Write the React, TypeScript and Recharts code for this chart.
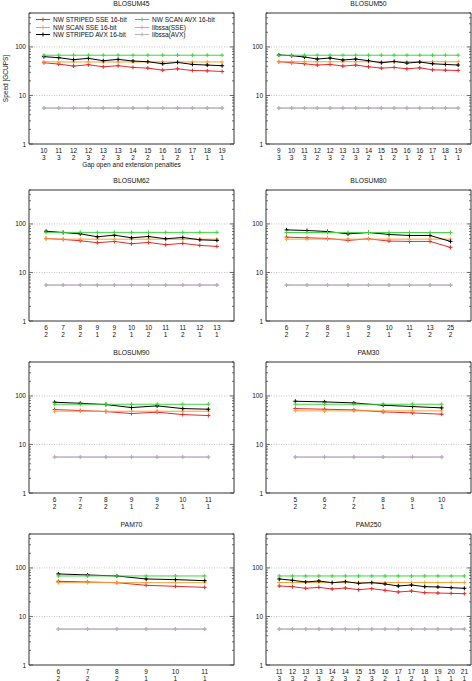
import React from 'react';
import { LineChart, Line, XAxis, YAxis, ReferenceLine, ReferenceArea, Legend } from 'recharts';

const SERIES_NAMES = ['NW STRIPED SSE 16-bit', 'NW SCAN SSE 16-bit', 'NW STRIPED AVX 16-bit', 'NW SCAN AVX 16-bit', 'libssa(SSE)', 'libssa(AVX)'];
const SERIES_KEYS = ['stripedSse', 'scanSse', 'stripedAvx', 'scanAvx', 'libssaSse', 'libssaAvx'];
const SERIES_COLORS = ['#e42a2a', '#f2a43a', '#000000', '#3fd83f', '#d49ad4', '#b4b4b4'];

const Y_TICKS = [1, 2, 3, 4, 5, 6, 7, 8, 9, 10, 20, 30, 40, 50, 60, 70, 80, 90, 100, 200, 300, 400, 500];
const Y_MAJOR = [1, 10, 100];

// BLOSUM45
const B45_OPEN = [10, 11, 12, 12, 13, 13, 14, 15, 16, 16, 17, 18, 19];
const B45_EXT = [3, 3, 2, 3, 2, 3, 2, 2, 1, 2, 1, 1, 1];
const B45_STRIPED_SSE = [47.2, 44.3, 40.3, 43, 39, 41, 37.8, 36.6, 33.2, 35.4, 32.7, 32.2, 31.2];
const B45_SCAN_SSE = [49.5, 49, 49, 49, 49, 49, 49, 49, 49, 49, 49, 49, 49];
const B45_STRIPED_AVX = [63, 60, 54.6, 58.2, 52, 55.4, 51.2, 49.6, 45, 48, 43.6, 42.3, 41];
const B45_SCAN_AVX = [67.5, 67.5, 67.5, 67.5, 67.5, 67.5, 67.5, 67.5, 67.5, 67.5, 67.5, 67.5, 67.5];
const B45_LIBSSA_SSE = [5.5, 5.5, 5.5, 5.5, 5.5, 5.5, 5.5, 5.5, 5.5, 5.5, 5.5, 5.5, 5.5];
const B45_LIBSSA_AVX = [5.5, 5.5, 5.5, 5.5, 5.5, 5.5, 5.5, 5.5, 5.5, 5.5, 5.5, 5.5, 5.5];

// BLOSUM50
const B50_OPEN = [9, 10, 11, 12, 12, 13, 13, 14, 15, 15, 16, 16, 17, 18, 19];
const B50_EXT = [3, 3, 3, 2, 3, 2, 3, 2, 1, 2, 1, 2, 1, 1, 1];
const B50_STRIPED_SSE = [49.6, 47.2, 45, 42.3, 43.6, 40.3, 42.3, 39, 36.6, 37.8, 35.4, 37.1, 33.7, 33.2, 32.7];
const B50_SCAN_SSE = [49.5, 49.5, 49.5, 49.5, 49.5, 49.5, 49.5, 49.5, 49.5, 49.5, 49.5, 49.5, 49.5, 49.5, 49.5];
const B50_STRIPED_AVX = [68.2, 66, 62, 56.3, 59.1, 53.7, 56.3, 52, 47.2, 50.3, 46.5, 48.8, 45, 43.6, 42.3];
const B50_SCAN_AVX = [67.5, 67.5, 67.5, 67.5, 67.5, 67.5, 67.5, 67.5, 67.5, 67.5, 67.5, 67.5, 67.5, 67.5, 67.5];
const B50_LIBSSA_SSE = [5.5, 5.5, 5.5, 5.5, 5.5, 5.5, 5.5, 5.5, 5.5, 5.5, 5.5, 5.5, 5.5, 5.5, 5.5];
const B50_LIBSSA_AVX = [5.5, 5.5, 5.5, 5.5, 5.5, 5.5, 5.5, 5.5, 5.5, 5.5, 5.5, 5.5, 5.5, 5.5, 5.5];

// BLOSUM62
const B62_OPEN = [6, 7, 8, 9, 9, 10, 10, 11, 11, 12, 13];
const B62_EXT = [2, 2, 2, 1, 2, 1, 2, 1, 2, 1, 1];
const B62_STRIPED_SSE = [50.2, 47.9, 45, 41, 43.6, 39.1, 41.6, 37.3, 39.7, 36.1, 34.4];
const B62_SCAN_SSE = [49.5, 48.5, 48.5, 48.5, 48.5, 48.5, 48.5, 48.5, 48.5, 48.5, 48.5];
const B62_STRIPED_AVX = [70.8, 66.5, 62.5, 54.3, 58.7, 51.8, 55.1, 49.4, 52.6, 47.1, 45.7];
const B62_SCAN_AVX = [67, 67, 67, 67, 67, 67, 67, 67, 67, 67, 67];
const B62_LIBSSA_SSE = [5.5, 5.5, 5.5, 5.5, 5.5, 5.5, 5.5, 5.5, 5.5, 5.5, 5.5];
const B62_LIBSSA_AVX = [5.5, 5.5, 5.5, 5.5, 5.5, 5.5, 5.5, 5.5, 5.5, 5.5, 5.5];

// BLOSUM80
const B80_OPEN = [6, 7, 8, 9, 9, 10, 11, 13, 25];
const B80_EXT = [2, 2, 2, 1, 2, 1, 1, 2, 2];
const B80_STRIPED_SSE = [53.4, 51.8, 50.2, 45.7, 49.4, 44.3, 43.6, 43.6, 32.9];
const B80_SCAN_SSE = [48.6, 48.6, 48.6, 48.6, 48.6, 48.6, 48.6, 48.6, 48.6];
const B80_STRIPED_AVX = [75.4, 73.1, 69.8, 62.5, 66.5, 60.6, 57.8, 57.8, 43.6];
const B80_SCAN_AVX = [66.5, 66.5, 66.5, 66.5, 66.5, 66.5, 66.5, 66.5, 66.5];
const B80_LIBSSA_SSE = [5.5, 5.5, 5.5, 5.5, 5.5, 5.5, 5.5, 5.5, 5.5];
const B80_LIBSSA_AVX = [5.5, 5.5, 5.5, 5.5, 5.5, 5.5, 5.5, 5.5, 5.5];

// BLOSUM90
const B90_OPEN = [6, 7, 8, 9, 9, 10, 11];
const B90_EXT = [2, 2, 2, 1, 2, 1, 1];
const B90_STRIPED_SSE = [52.4, 50, 47.6, 43.4, 46.2, 41.3, 39.4];
const B90_SCAN_SSE = [48.4, 48.4, 48.4, 48.4, 48.4, 48.4, 48.4];
const B90_STRIPED_AVX = [74.1, 70.7, 66.4, 57.6, 62.3, 54.9, 53.2];
const B90_SCAN_AVX = [67.4, 67.4, 67.4, 67.4, 67.4, 67.4, 67.4];
const B90_LIBSSA_SSE = [5.5, 5.5, 5.5, 5.5, 5.5, 5.5, 5.5];
const B90_LIBSSA_AVX = [5.5, 5.5, 5.5, 5.5, 5.5, 5.5, 5.5];

// PAM30
const P30_OPEN = [5, 6, 7, 8, 9, 10];
const P30_EXT = [2, 2, 2, 1, 1, 1];
const P30_STRIPED_SSE = [54.9, 53.2, 51.5, 46.9, 44.7, 42];
const P30_SCAN_SSE = [49.2, 49.2, 49.2, 49.2, 49.2, 49.2];
const P30_STRIPED_AVX = [77.7, 75.3, 71.8, 64.3, 60.4, 56.7];
const P30_SCAN_AVX = [67.4, 67.4, 67.4, 67.4, 67.4, 67.4];
const P30_LIBSSA_SSE = [5.5, 5.5, 5.5, 5.5, 5.5, 5.5];
const P30_LIBSSA_AVX = [5.5, 5.5, 5.5, 5.5, 5.5, 5.5];

// PAM70
const P70_OPEN = [6, 7, 8, 9, 10, 11];
const P70_EXT = [2, 2, 2, 1, 1, 1];
const P70_STRIPED_SSE = [53, 51.3, 49.7, 43.8, 41.8, 39.8];
const P70_SCAN_SSE = [49.7, 49.7, 49.7, 49.7, 49.7, 49.7];
const P70_STRIPED_AVX = [75.2, 71.6, 68.3, 59.2, 57.4, 54.7];
const P70_SCAN_AVX = [68.3, 68.3, 68.3, 68.3, 68.3, 68.3];
const P70_LIBSSA_SSE = [5.5, 5.5, 5.5, 5.5, 5.5, 5.5];
const P70_LIBSSA_AVX = [5.5, 5.5, 5.5, 5.5, 5.5, 5.5];

// PAM250
const P250_OPEN = [11, 12, 13, 13, 14, 14, 15, 15, 16, 17, 17, 18, 19, 20, 21];
const P250_EXT = [3, 3, 2, 3, 2, 3, 2, 3, 2, 1, 2, 1, 1, 1, 1];
const P250_STRIPED_SSE = [42.4, 41.1, 38, 39.8, 36.8, 38.6, 35.6, 37.4, 34.5, 31.9, 33.4, 30.9, 30.4, 29.9, 29.5];
const P250_SCAN_SSE = [50, 50, 50, 50, 50, 50, 50, 50, 50, 50, 50, 50, 50, 50, 50];
const P250_STRIPED_AVX = [59.2, 55.6, 51.3, 53.8, 49.7, 52.2, 48.2, 49.7, 46.7, 42.4, 44.5, 41.1, 40.5, 39.2, 38];
const P250_SCAN_AVX = [68.3, 68.3, 68.3, 68.3, 68.3, 68.3, 68.3, 68.3, 68.3, 68.3, 68.3, 68.3, 68.3, 68.3, 68.3];
const P250_LIBSSA_SSE = [5.5, 5.5, 5.5, 5.5, 5.5, 5.5, 5.5, 5.5, 5.5, 5.5, 5.5, 5.5, 5.5, 5.5, 5.5];
const P250_LIBSSA_AVX = [5.5, 5.5, 5.5, 5.5, 5.5, 5.5, 5.5, 5.5, 5.5, 5.5, 5.5, 5.5, 5.5, 5.5, 5.5];

const PANELS = [
  { title: 'BLOSUM45', open: B45_OPEN, ext: B45_EXT, xMax: 12.8, series: [B45_STRIPED_SSE, B45_SCAN_SSE, B45_STRIPED_AVX, B45_SCAN_AVX, B45_LIBSSA_SSE, B45_LIBSSA_AVX] },
  { title: 'BLOSUM50', open: B50_OPEN, ext: B50_EXT, xMax: 15, series: [B50_STRIPED_SSE, B50_SCAN_SSE, B50_STRIPED_AVX, B50_SCAN_AVX, B50_LIBSSA_SSE, B50_LIBSSA_AVX] },
  { title: 'BLOSUM62', open: B62_OPEN, ext: B62_EXT, xMax: 11, series: [B62_STRIPED_SSE, B62_SCAN_SSE, B62_STRIPED_AVX, B62_SCAN_AVX, B62_LIBSSA_SSE, B62_LIBSSA_AVX] },
  { title: 'BLOSUM80', open: B80_OPEN, ext: B80_EXT, xMax: 9, series: [B80_STRIPED_SSE, B80_SCAN_SSE, B80_STRIPED_AVX, B80_SCAN_AVX, B80_LIBSSA_SSE, B80_LIBSSA_AVX] },
  { title: 'BLOSUM90', open: B90_OPEN, ext: B90_EXT, xMax: 7, series: [B90_STRIPED_SSE, B90_SCAN_SSE, B90_STRIPED_AVX, B90_SCAN_AVX, B90_LIBSSA_SSE, B90_LIBSSA_AVX] },
  { title: 'PAM30', open: P30_OPEN, ext: P30_EXT, xMax: 6, series: [P30_STRIPED_SSE, P30_SCAN_SSE, P30_STRIPED_AVX, P30_SCAN_AVX, P30_LIBSSA_SSE, P30_LIBSSA_AVX] },
  { title: 'PAM70', open: P70_OPEN, ext: P70_EXT, xMax: 6, series: [P70_STRIPED_SSE, P70_SCAN_SSE, P70_STRIPED_AVX, P70_SCAN_AVX, P70_LIBSSA_SSE, P70_LIBSSA_AVX] },
  { title: 'PAM250', open: P250_OPEN, ext: P250_EXT, xMax: 14.5, series: [P250_STRIPED_SSE, P250_SCAN_SSE, P250_STRIPED_AVX, P250_SCAN_AVX, P250_LIBSSA_SSE, P250_LIBSSA_AVX] },
];

const FONT = '"Liberation Sans", Arial, sans-serif';
const FS = 6.5;
const W = 236;
const H = 170;
const PLOT_L = 30;
const PLOT_R = 235;
const PLOT_T = 13;
const PLOT_B = 144;
const AXIS = '#333';
const COL_LEFT = [-1, 236];
const BOX_TOPS = [13, 190, 362, 534];

function PlusDot(props: any) {
  const { cx, cy, stroke } = props;
  if (cx == null || cy == null) return null;
  return <path d={`M${cx - 2},${cy}h4M${cx},${cy - 2}v4`} stroke={stroke} strokeWidth={1} fill="none" />;
}

function YTick(props: any) {
  const { y, payload } = props;
  const v = payload.value;
  const major = Y_MAJOR.includes(v);
  const len = major ? 4 : 2;
  return (
    <g>
      <line x1={PLOT_L} x2={PLOT_L + len} y1={y} y2={y} stroke={AXIS} strokeWidth={0.7} />
      <line x1={PLOT_R - len} x2={PLOT_R} y1={y} y2={y} stroke={AXIS} strokeWidth={0.7} />
      {major && (
        <text x={PLOT_L - 3} y={y} textAnchor="end" dominantBaseline="central" fontSize={FS} fontFamily={FONT} fill="#111">
          {v}
        </text>
      )}
    </g>
  );
}

function XTick(props: any) {
  const { x, payload, open, ext } = props;
  const i = payload.value;
  return (
    <g>
      <text x={x} y={PLOT_B + 6.5} textAnchor="middle" dominantBaseline="central" fontSize={FS} fontFamily={FONT} fill="#111">
        {open[i]}
      </text>
      <text x={x} y={PLOT_B + 13.5} textAnchor="middle" dominantBaseline="central" fontSize={FS} fontFamily={FONT} fill="#111">
        {ext[i]}
      </text>
    </g>
  );
}

function renderLegend(props: any) {
  // keep the plotting order, two columns of three
  const items = [...(props.payload || [])].sort(
    (a: any, b: any) => SERIES_NAMES.indexOf(a.value) - SERIES_NAMES.indexOf(b.value)
  );
  return (
    <div
      style={{
        display: 'grid',
        gridTemplateColumns: '99px 99px',
        gridTemplateRows: 'repeat(3, 7.5px)',
        gridAutoFlow: 'column',
        fontFamily: FONT,
        fontSize: FS,
        color: '#111',
      }}
    >
      {items.map((p: any) => (
        <div key={p.value} style={{ display: 'flex', alignItems: 'center', height: 7.5, whiteSpace: 'nowrap' }}>
          <svg width={15} height={7} style={{ marginRight: 2, flex: 'none' }}>
            <line x1={0} x2={14} y1={3.5} y2={3.5} stroke={p.color} />
            <path d="M5 3.5h4M7 1.5v4" stroke={p.color} />
          </svg>
          <span>{p.value}</span>
        </div>
      ))}
    </div>
  );
}

function Panel({ panel, index }: { panel: any; index: number }) {
  const row = Math.floor(index / 2);
  const col = index % 2;
  const top = BOX_TOPS[row] - PLOT_T;
  const left = COL_LEFT[col];
  const first = index === 0;
  const data = panel.open.map((_: number, i: number) => {
    const d: any = { i };
    SERIES_KEYS.forEach((k, s) => {
      d[k] = panel.series[s][i];
    });
    return d;
  });
  const xTicks = panel.open.map((_: number, i: number) => i);

  return (
    <div style={{ position: 'absolute', top, left, width: W, height: H }}>
      <div
        style={{
          position: 'absolute',
          top: PLOT_T - 9.5 - 5,
          left: PLOT_L,
          width: PLOT_R - PLOT_L,
          height: 10,
          lineHeight: '10px',
          textAlign: 'center',
          fontFamily: FONT,
          fontSize: 6.8,
          color: '#111',
        }}
      >
        {panel.title}
      </div>
      <LineChart width={W} height={H} data={data} margin={{ top: PLOT_T, right: W - PLOT_R, left: 0, bottom: 0 }}>
        <XAxis
          dataKey="i"
          type="number"
          domain={[-1, panel.xMax]}
          ticks={xTicks}
          interval={0}
          allowDataOverflow
          axisLine={false}
          tickLine={false}
          height={H - PLOT_B}
          tick={(p: any) => <XTick {...p} open={panel.open} ext={panel.ext} />}
          label={
            first
              ? { value: 'Gap open and extension penalties', position: 'insideBottom', offset: 3.5, fontSize: FS, fill: '#111', fontFamily: FONT }
              : undefined
          }
        />
        <YAxis
          type="number"
          scale="log"
          domain={[1, 500]}
          ticks={Y_TICKS}
          interval={0}
          allowDataOverflow
          axisLine={false}
          tickLine={false}
          width={PLOT_L}
          tick={(p: any) => <YTick {...p} />}
          label={
            first
              ? {
                  content: (lp: any) => {
                    const vb = lp.viewBox || { y: PLOT_T, height: PLOT_B - PLOT_T };
                    const cx = 6;
                    const cy = vb.y + vb.height / 2;
                    return (
                      <text
                        x={cx}
                        y={cy}
                        transform={`rotate(-90 ${cx} ${cy})`}
                        textAnchor="middle"
                        dominantBaseline="central"
                        fontSize={FS}
                        fontFamily={FONT}
                        fill="#111"
                      >
                        Speed [GCUPS]
                      </text>
                    );
                  },
                }
              : undefined
          }
        />
        <ReferenceLine y={10} stroke="#c4c4c4" strokeDasharray="1 1.5" />
        <ReferenceLine y={100} stroke="#c4c4c4" strokeDasharray="1 1.5" />
        <ReferenceArea x1={-1} x2={panel.xMax} y1={1} y2={500} fill="none" stroke={AXIS} strokeWidth={1} fillOpacity={0} ifOverflow="visible" />
        {SERIES_KEYS.map((k, s) => (
          <Line
            key={k}
            dataKey={k}
            name={SERIES_NAMES[s]}
            stroke={SERIES_COLORS[s]}
            strokeWidth={1}
            dot={<PlusDot />}
            activeDot={false}
            isAnimationActive={false}
          />
        ))}
        {first && (
          <Legend
            layout="horizontal"
            verticalAlign="middle"
            align="center"
            content={renderLegend}
            wrapperStyle={{ position: 'absolute', top: 16, left: 37, width: 200, height: 23 }}
          />
        )}
      </LineChart>
    </div>
  );
}

export default function App() {
  return (
    <div style={{ position: 'absolute', top: 0, left: 0, width: 472, height: 681, overflow: 'hidden', background: '#fff' }}>
      {PANELS.map((p, idx) => (
        <Panel key={p.title} panel={p} index={idx} />
      ))}
    </div>
  );
}
